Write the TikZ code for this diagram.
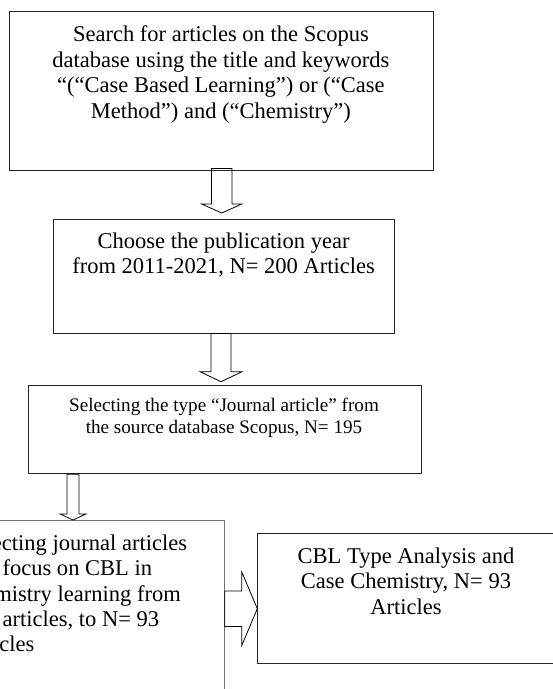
\documentclass[tikz,border=0pt]{standalone}
\usepackage{fontspec}
\setmainfont{Liberation Serif}
\usetikzlibrary{calc}
\tikzset{
  boxs/.style={draw=black!85, line width=0.8bp, inner sep=0pt, anchor=north west},
  txt/.style={inner sep=0pt, anchor=north, align=center},
  barrow/.style={draw=black, line width=0.8bp, line join=miter},
}
\newcommand\bigfont{\fontsize{22.6}{25.5}\selectfont}
\newcommand\midfont{\fontsize{19.2}{21.6}\selectfont}
\newcommand\tsbig{\rule{0pt}{17bp}}
\newcommand\tsmid{\rule{0pt}{14.5bp}}
\newcommand\vbarrow[5]{\draw[barrow] let \p1=(#1), \p2=(#2) in
  ({\x1-#3},\y1) -- ({\x1+#3},\y1) -- ({\x1+#3},{\y2+#5}) -- ({\x1+#4},{\y2+#5})
  -- (\x1,\y2) -- ({\x1-#4},{\y2+#5}) -- ({\x1-#3},{\y2+#5}) -- cycle;}
\newcommand\hbarrow[5]{\draw[barrow] let \p1=(#1), \p2=(#2) in
  (\x1,{\y1+#3}) -- ({\x2-#5},{\y1+#3}) -- ({\x2-#5},{\y1+#4}) -- (\x2,\y1)
  -- ({\x2-#5},{\y1-#4}) -- ({\x2-#5},{\y1-#3}) -- (\x1,{\y1-#3}) -- cycle;}
\begin{document}
\begin{tikzpicture}[x=1bp,y=-1bp]
\useasboundingbox (0,0) rectangle (553,689);
% boxes
\node[boxs, minimum width=423.3bp, minimum height=159bp] (b1) at (9.2,11.3) {};
\node[boxs, minimum width=341.5bp, minimum height=114.2bp] (b2) at (52.9,218.5) {};
\node[boxs, minimum width=393.3bp, minimum height=88.3bp] (b3) at (27.5,385) {};
\node[boxs, draw=black!55, minimum width=269bp, minimum height=176.6bp] (b4) at (-45,520) {};
\node[boxs, minimum width=297.7bp, minimum height=130.6bp] (b5) at (257.3,532.7) {};
% texts
\node[txt, font=\bigfont] (t1) at (220.9,24.7) {\tsbig Search for articles on the Scopus\\
  database using the title and keywords\\
  “(“Case Based Learning”) or (“Case\\
  Method”) and (“Chemistry”)};
\node[txt, font=\bigfont] (t2) at (223.6,230.8) {\tsbig Choose the publication year\\
  from 2011-2021, N= 200 Articles};
\node[txt, font=\midfont] (t3) at (224,397.2) {\tsmid Selecting the type “Journal article” from\\
  the source database Scopus, N= 195};
\node[txt, font=\bigfont, anchor=north west, align=left] (t4) at (-37,533) {\tsbig Selecting journal articles\\
  that focus on CBL in\\
  chemistry learning from\\
  195 articles, to N= 93\\
  Articles};
\node[txt, font=\bigfont] (t5) at (406,546.3) {\tsbig CBL Type Analysis and\\
  Case Chemistry, N= 93\\
  Articles};
% block arrows
\coordinate (a1s) at ([xshift=0.5bp,yshift=2.6bp]b1.south);
\coordinate (a1e) at ([xshift=-2.15bp,yshift=5.5bp]b2.north);
\vbarrow{a1s}{a1e}{10.2bp}{20.1bp}{9bp}
\coordinate (a2s) at ([xshift=-3bp]b2.south);
\coordinate (a2e) at ([xshift=-3.5bp,yshift=3.3bp]b3.north);
\vbarrow{a2s}{a2e}{10bp}{21bp}{10bp}
\coordinate (a3s) at ([xshift=45.5bp]b3.south west);
\coordinate (a3e) at ([xshift=-150.6bp]b4.north east);
\vbarrow{a3s}{a3e}{6bp}{12.9bp}{6bp}
\coordinate (a4s) at (b4.east);
\coordinate (a4e) at ([yshift=-10.3bp]b5.west);
\hbarrow{a4s}{a4e}{17.7bp}{36.7bp}{15.5bp}
\end{tikzpicture}
\end{document}
